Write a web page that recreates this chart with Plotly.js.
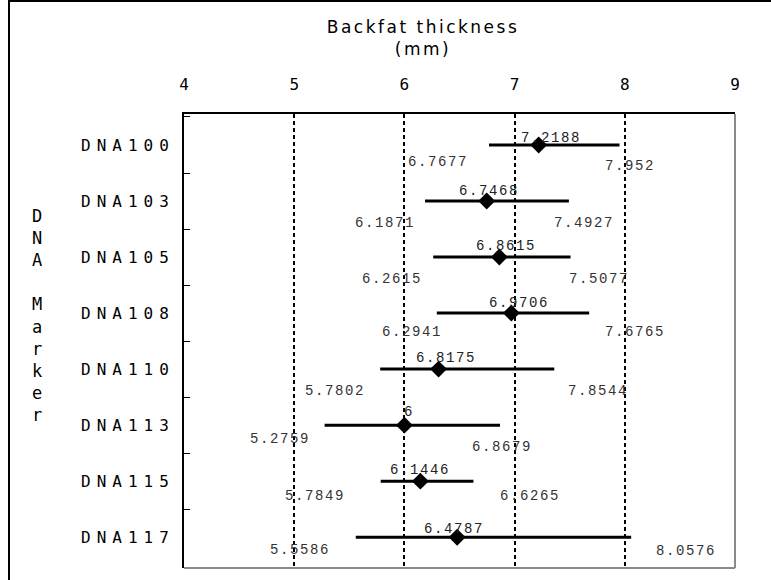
<!DOCTYPE html>
<html>
<head>
<meta charset="utf-8">
<script src="https://cdn.plot.ly/plotly-3.0.1.min.js"></script>
<style>
  html, body { margin: 0; padding: 0; background: #fff; }
  #chart { width: 771px; height: 580px; }
  .ytick text { letter-spacing: 6px; }
  .gtitle { letter-spacing: 2.5px; }
  .annotation-text { letter-spacing: 1.6px; }
</style>
</head>
<body>
<div id="chart"></div>
<script>
// ---- data ----
const markers   = ['DNA100', 'DNA103', 'DNA105', 'DNA108', 'DNA110', 'DNA113', 'DNA115', 'DNA117'];
const meanVal   = [7.2188, 6.7468, 6.8615, 6.9706, 6.31, 6.0, 6.1446, 6.4787];
const lowVal    = [6.7677, 6.1871, 6.2615, 6.2941, 5.7802, 5.2759, 5.7849, 5.5586];
const highVal   = [7.952, 7.4927, 7.5077, 7.6765, 7.36, 6.8679, 6.6265, 8.0576];
const meanLabel = ['7.2188', '6.7468', '6.8615', '6.9706', '6.8175', '6', '6.1446', '6.4787'];
const lowLabel  = ['6.7677', '6.1871', '6.2615', '6.2941', '5.7802', '5.2759', '5.7849', '5.5586'];
const highLabel = ['7.952', '7.4927', '7.5077', '7.6765', '7.8544', '6.8679', '6.6265', '8.0576'];
const xTicks    = [4, 5, 6, 7, 8, 9];

// ---- label placement (pixel shifts relative to the plotted value) ----
const meanDX = [12, 2, 7, 8, 7, 5, 0, -3];
const meanDY = [7, 10, 11, 10, 11, 13, 11, 8];
const lowDX  = [-51, -40, -41, -25, -45, -45, -66, -56];
const lowDY  = [-17, -22, -22, -19, -22, -14, -15, -13];
const highDX = [10, 15, 28, 46, 44, 2, 57, 55];
const highDY = [-21, -22, -22, -19, -22, -22, -15, -14];

// ---- geometry ----
const W = 771, H = 580, L = 184, R = 735, T = 114, B = 568;
const pxX = x => (x - L) / (R - L);
const pxY = y => (B - y) / (B - T);

const FONT = 'DejaVu Sans Mono, monospace';
const LABEL_FONT = 'Liberation Mono, monospace';

const trace = {
  type: 'scatter',
  mode: 'markers',
  x: meanVal,
  y: markers,
  marker: { symbol: 'diamond', size: 13, color: '#000' },
  error_x: {
    type: 'data',
    symmetric: false,
    array: highVal.map((h, i) => h - meanVal[i]),
    arrayminus: meanVal.map((m, i) => m - lowVal[i]),
    color: '#000',
    thickness: 3,
    width: 0
  },
  hoverinfo: 'skip',
  showlegend: false
};

const annotations = [];
markers.forEach((m, i) => {
  annotations.push({ x: meanVal[i], y: m, xref: 'x', yref: 'y', text: meanLabel[i], showarrow: false,
    xanchor: 'center', yanchor: 'middle', xshift: meanDX[i], yshift: meanDY[i],
    font: { family: LABEL_FONT, size: 14, color: '#222' } });
  annotations.push({ x: lowVal[i], y: m, xref: 'x', yref: 'y', text: lowLabel[i], showarrow: false,
    xanchor: 'center', yanchor: 'middle', xshift: lowDX[i], yshift: lowDY[i],
    font: { family: LABEL_FONT, size: 14, color: '#333' } });
  annotations.push({ x: highVal[i], y: m, xref: 'x', yref: 'y', text: highLabel[i], showarrow: false,
    xanchor: 'center', yanchor: 'middle', xshift: highDX[i], yshift: highDY[i],
    font: { family: LABEL_FONT, size: 14, color: '#333' } });
});
// vertical y-axis title
annotations.push({
  x: pxX(38), y: pxY(315), xref: 'paper', yref: 'paper',
  text: 'D<br>N<br>A<br> <br>M<br>a<br>r<br>k<br>e<br>r',
  showarrow: false, xanchor: 'center', yanchor: 'middle', align: 'center',
  font: { family: FONT, size: 17, color: '#000' }
});

const shapes = [
  // outer chart frame (top and left)
  { type: 'line', xref: 'paper', yref: 'paper', x0: pxX(9), x1: pxX(W + 5), y0: pxY(1), y1: pxY(1), line: { color: '#000', width: 2 } },
  { type: 'line', xref: 'paper', yref: 'paper', x0: pxX(9), x1: pxX(9), y0: pxY(0), y1: pxY(H + 5), line: { color: '#000', width: 2 } },
  // plot frame right and bottom (grey)
  { type: 'line', xref: 'paper', yref: 'paper', x0: 1, x1: 1, y0: 0, y1: 1, line: { color: '#8a8a8a', width: 2 } },
  { type: 'line', xref: 'paper', yref: 'paper', x0: 0, x1: 1, y0: 0, y1: 0, line: { color: '#8a8a8a', width: 2 } }
];

const layout = {
  width: W, height: H,
  margin: { l: L, r: W - R, t: T, b: H - B, pad: 0 },
  paper_bgcolor: '#fff', plot_bgcolor: '#fff',
  title: {
    text: 'Backfat thickness<br>(mm)',
    x: 423 / W, xref: 'container', xanchor: 'center',
    y: 1 - 33 / H, yref: 'container', yanchor: 'top',
    font: { family: 'DejaVu Sans, sans-serif', size: 17, color: '#000' }
  },
  xaxis: {
    side: 'top', range: [4, 9], tickvals: xTicks, ticktext: xTicks.map(String),
    showgrid: true, gridcolor: '#000', gridwidth: 2, griddash: '4px,3px',
    zeroline: false, showline: true, linecolor: '#000', linewidth: 2, ticks: '',
    ticklabelstandoff: 16,
    tickfont: { family: FONT, size: 16, color: '#000' }
  },
  yaxis: {
    type: 'category', categoryorder: 'array', categoryarray: markers,
    autorange: 'reversed', tickson: 'boundaries', ticks: 'inside', ticklen: 6,
    tickcolor: '#000', tickwidth: 1, showgrid: false, zeroline: false,
    showline: true, linecolor: '#000', linewidth: 2,
    ticklabelstandoff: 4,
    tickfont: { family: FONT, size: 16, color: '#000' }
  },
  annotations: annotations,
  shapes: shapes
};

Plotly.newPlot('chart', [trace], layout, { staticPlot: true, displayModeBar: false });
</script>
</body>
</html>
